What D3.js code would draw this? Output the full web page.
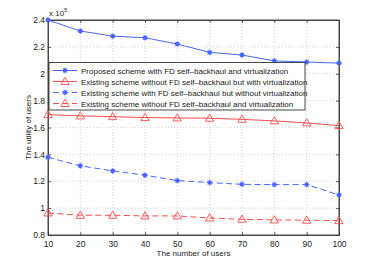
<!DOCTYPE html>
<html>
<head>
<meta charset="utf-8">
<script src="https://cdn.jsdelivr.net/npm/d3@7"></script>
<style>
  body { margin: 0; background: #fff; }
  svg text { font-family: "Liberation Sans", Arial, sans-serif; fill: #222; }
</style>
</head>
<body>
<svg id="chart"></svg>
<script>
// data (values in units of 10^5)
const users = [10, 20, 30, 40, 50, 60, 70, 80, 90, 100];
const proposed = [2.40, 2.318, 2.28, 2.268, 2.221, 2.159, 2.139, 2.096, 2.087, 2.079];
const noFdWithVirt = [1.696, 1.686, 1.681, 1.674, 1.671, 1.669, 1.661, 1.649, 1.634, 1.614];
const fdNoVirt = [1.378, 1.315, 1.277, 1.245, 1.205, 1.19, 1.177, 1.175, 1.175, 1.098];
const noFdNoVirt = [0.964, 0.947, 0.947, 0.942, 0.942, 0.927, 0.917, 0.912, 0.91, 0.907];
const xTicks = [10, 20, 30, 40, 50, 60, 70, 80, 90, 100];
const yTicks = [0.8, 1, 1.2, 1.4, 1.6, 1.8, 2, 2.2, 2.4];
const seriesNames = [
    'Proposed scheme with FD self\u2013backhaul and virtualization',
    'Existing scheme without FD self\u2013backhaul but with virtualization',
    'Existing scheme with FD self\u2013backhaul but without virtualization',
    'Existing scheme without FD self\u2013backhaul and virtualization'
];

const width = 374, height = 265;
const margin = {top: 20, right: 35, bottom: 30, left: 48};
const BLUE = '#4a66ff', RED = '#ff4d4d', AXIS = '#333';

const series = [
    {name: seriesNames[0], values: proposed, color: BLUE, dash: null, marker: 'star'},
    {name: seriesNames[1], values: noFdWithVirt, color: RED, dash: null, marker: 'tri'},
    {name: seriesNames[2], values: fdNoVirt, color: BLUE, dash: '6,3.5', marker: 'star'},
    {name: seriesNames[3], values: noFdNoVirt, color: RED, dash: '6,3.5', marker: 'tri'}
];

const svg = d3.select('#chart')
    .attr('width', width)
    .attr('height', height);

const x = d3.scaleLinear().domain([10, 100]).range([margin.left, width - margin.right]);
const y = d3.scaleLinear().domain([0.8, 2.4]).range([height - margin.bottom, margin.top]);

// grid
const grid = svg.append('g')
    .attr('stroke', '#bbb')
    .attr('stroke-width', 0.6)
    .attr('stroke-dasharray', '1,2');
grid.selectAll('.gx')
    .data(xTicks.slice(1, -1))
    .enter().append('line')
    .attr('x1', d => x(d)).attr('x2', d => x(d))
    .attr('y1', y(0.8)).attr('y2', y(2.4));
grid.selectAll('.gy')
    .data(yTicks.slice(1, -1))
    .enter().append('line')
    .attr('x1', x(10)).attr('x2', x(100))
    .attr('y1', d => y(d)).attr('y2', d => y(d));

// axes
const xAxis = svg.append('g')
    .attr('transform', `translate(0,${y(0.8)})`)
    .call(d3.axisBottom(x).tickValues(xTicks).tickSizeInner(-3).tickSizeOuter(0).tickPadding(6));
const yAxis = svg.append('g')
    .attr('transform', `translate(${x(10)},0)`)
    .call(d3.axisLeft(y).tickValues(yTicks).tickFormat(d3.format('~g')).tickSizeInner(-3).tickSizeOuter(0).tickPadding(3));
// top and right ticks
svg.append('g')
    .attr('transform', `translate(0,${y(2.4)})`)
    .call(d3.axisTop(x).tickValues(xTicks).tickSizeInner(-3).tickSizeOuter(0).tickFormat(''));
svg.append('g')
    .attr('transform', `translate(${x(100)},0)`)
    .call(d3.axisRight(y).tickValues(yTicks).tickSizeInner(-3).tickSizeOuter(0).tickFormat(''));

svg.selectAll('.domain, .tick line').attr('stroke', AXIS).attr('stroke-width', 0.8);
svg.selectAll('.tick text').attr('font-size', 8.5).attr('fill', '#222');

// box
svg.append('rect')
    .attr('x', x(10)).attr('y', y(2.4))
    .attr('width', x(100) - x(10)).attr('height', y(0.8) - y(2.4))
    .attr('fill', 'none').attr('stroke', AXIS).attr('stroke-width', 0.9);

// exponent
const expo = svg.append('text')
    .attr('x', x(10) + 1).attr('y', 16)
    .attr('font-size', 8);
expo.append('tspan').text('x 10');
expo.append('tspan').attr('font-size', 5.5).attr('dy', -4).text('5');

// axis titles
svg.append('text')
    .attr('x', (x(10) + x(100)) / 2).attr('y', 256)
    .attr('text-anchor', 'middle').attr('font-size', 8)
    .text('The number of users');
svg.append('text')
    .attr('transform', `translate(31,${(y(0.8) + y(2.4)) / 2})rotate(-90)`)
    .attr('text-anchor', 'middle').attr('font-size', 8)
    .text('The utility of users');

// markers
const drawMarker = (g, s, cx, cy) => {
    if (s.marker === 'star') {
        g.append('circle')
            .attr('cx', cx).attr('cy', cy).attr('r', 2.2)
            .attr('fill', s.color);
        g.append('path')
            .attr('d', `M${cx - 3},${cy}h6M${cx},${cy - 3}v6M${cx - 2.2},${cy - 2.2}l4.4,4.4M${cx - 2.2},${cy + 2.2}l4.4,-4.4`)
            .attr('stroke', s.color).attr('stroke-width', 0.7);
    } else {
        g.append('path')
            .attr('d', d3.symbol(d3.symbolTriangle, 30)())
            .attr('transform', `translate(${cx},${cy + 0.6})`)
            .attr('fill', 'none').attr('stroke', s.color).attr('stroke-width', 0.9);
    }
};

// lines
const line = d3.line().x((d, i) => x(users[i])).y(d => y(d));
series.forEach(s => {
    const g = svg.append('g');
    g.append('path')
        .datum(s.values)
        .attr('d', line)
        .attr('fill', 'none')
        .attr('stroke', s.color)
        .attr('stroke-width', 1)
        .attr('stroke-dasharray', s.dash);
    s.values.forEach((v, i) => drawMarker(g, s, x(users[i]), y(v)));
});

// legend
const lx = x(10) + 1, ly = 62.5, lw = 256, rowH = 11;
const legend = svg.append('g');
legend.append('rect')
    .attr('x', lx).attr('y', ly)
    .attr('width', lw).attr('height', rowH * 4 + 3.5)
    .attr('fill', '#fff').attr('stroke', AXIS).attr('stroke-width', 0.9);
series.forEach((s, i) => {
    const cy = ly + 8 + i * rowH;
    legend.append('line')
        .attr('x1', lx + 4).attr('x2', lx + 28)
        .attr('y1', cy).attr('y2', cy)
        .attr('stroke', s.color).attr('stroke-width', 1)
        .attr('stroke-dasharray', s.dash);
    drawMarker(legend, s, lx + 16, cy);
    legend.append('text')
        .attr('x', lx + 32).attr('y', cy + 3)
        .attr('font-size', 8)
        .text(s.name);
});
</script>
</body>
</html>
